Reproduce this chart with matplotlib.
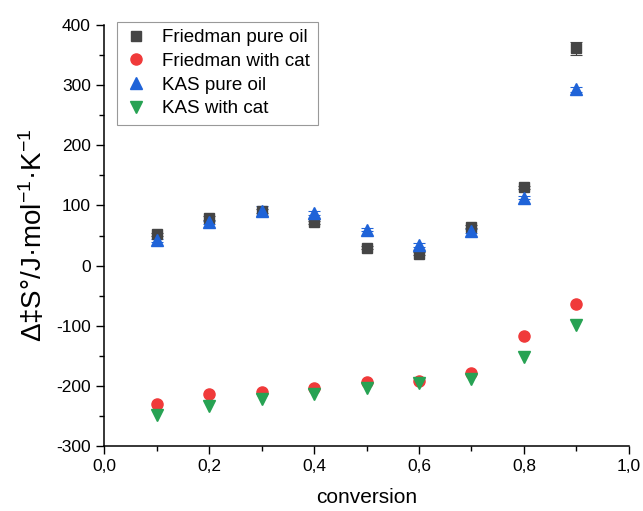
import matplotlib
matplotlib.use("Agg")
import matplotlib.pyplot as plt
from matplotlib.ticker import MultipleLocator, FuncFormatter

plt.rcParams['font.family'] = ['Liberation Sans', 'DejaVu Sans']
plt.rcParams['mathtext.fontset'] = 'custom'
plt.rcParams['mathtext.rm'] = 'Liberation Sans'
plt.rcParams['mathtext.it'] = 'Liberation Sans:italic'
plt.rcParams['axes.unicode_minus'] = False

conversion = [0.1, 0.2, 0.3, 0.4, 0.5, 0.6, 0.7, 0.8, 0.9]
friedman_pure = [52, 79, 91, 72, 30, 20, 65, 130, 361]
friedman_pure_err = [3, 3, 4, 3, 3, 3, 3, 3, 10]
friedman_cat = [-230, -214, -210, -203, -194, -191, -179, -117, -64]
kas_pure = [42, 72, 91, 88, 60, 34, 58, 113, 293]
kas_pure_err = [3, 3, 8, 3, 3, 3, 3, 3, 4]
kas_cat = [-248, -234, -221, -213, -203, -195, -188, -152, -98]

fig = plt.figure(figsize=(6.43, 5.11), dpi=100)
ax = fig.add_axes([0.162, 0.127, 0.816, 0.824])

c_fp, c_fc, c_kp, c_kc = '#454545', '#f03a3a', '#1f63d8', '#27a253'
ax.errorbar(conversion, friedman_pure, yerr=friedman_pure_err, fmt='none', ecolor=c_fp,
            capsize=4, elinewidth=0.8, capthick=0.8, zorder=2)
ax.errorbar(conversion, kas_pure, yerr=kas_pure_err, fmt='none', ecolor=c_kp,
            capsize=4, elinewidth=0.8, capthick=0.8, zorder=2)
ax.plot(conversion, friedman_pure, 's', color=c_fp, ms=7, label='Friedman pure oil', zorder=3)
ax.plot(conversion, friedman_cat, 'o', color=c_fc, ms=8, label='Friedman with cat', zorder=3)
ax.plot(conversion, kas_pure, '^', color=c_kp, ms=8, label='KAS pure oil', zorder=3)
ax.plot(conversion, kas_cat, 'v', color=c_kc, ms=8, label='KAS with cat', zorder=3)

ax.set_xlim(0, 1.0)
ax.set_ylim(-300, 400)
ax.xaxis.set_major_locator(MultipleLocator(0.2))
ax.xaxis.set_minor_locator(MultipleLocator(0.1))
ax.yaxis.set_major_locator(MultipleLocator(100))
ax.yaxis.set_minor_locator(MultipleLocator(50))
ax.xaxis.set_major_formatter(FuncFormatter(lambda v, p: f"{v:.1f}".replace('.', ',')))
ax.tick_params(which='major', direction='out', length=6, width=1, labelsize=12.5)
ax.tick_params(which='minor', direction='out', length=3.5, width=1)
for s in ['top', 'right']:
    ax.spines[s].set_visible(False)
for s in ['left', 'bottom']:
    ax.spines[s].set_linewidth(1.1)

ax.set_xlabel('conversion', fontsize=15, labelpad=10)
ax.set_ylabel('Δ‡S°/J·mol$^{-1}$·K$^{-1}$', fontsize=20, labelpad=6)

leg = ax.legend(loc='upper left', bbox_to_anchor=(0.025, 1.008), fontsize=13.5, frameon=True,
                fancybox=False, edgecolor='#808080', handletextpad=0.8, borderpad=0.4,
                labelspacing=0.35, handlelength=1.2, borderaxespad=0.0)
leg.get_frame().set_linewidth(0.8)

fig.savefig('out.png', dpi=100)
